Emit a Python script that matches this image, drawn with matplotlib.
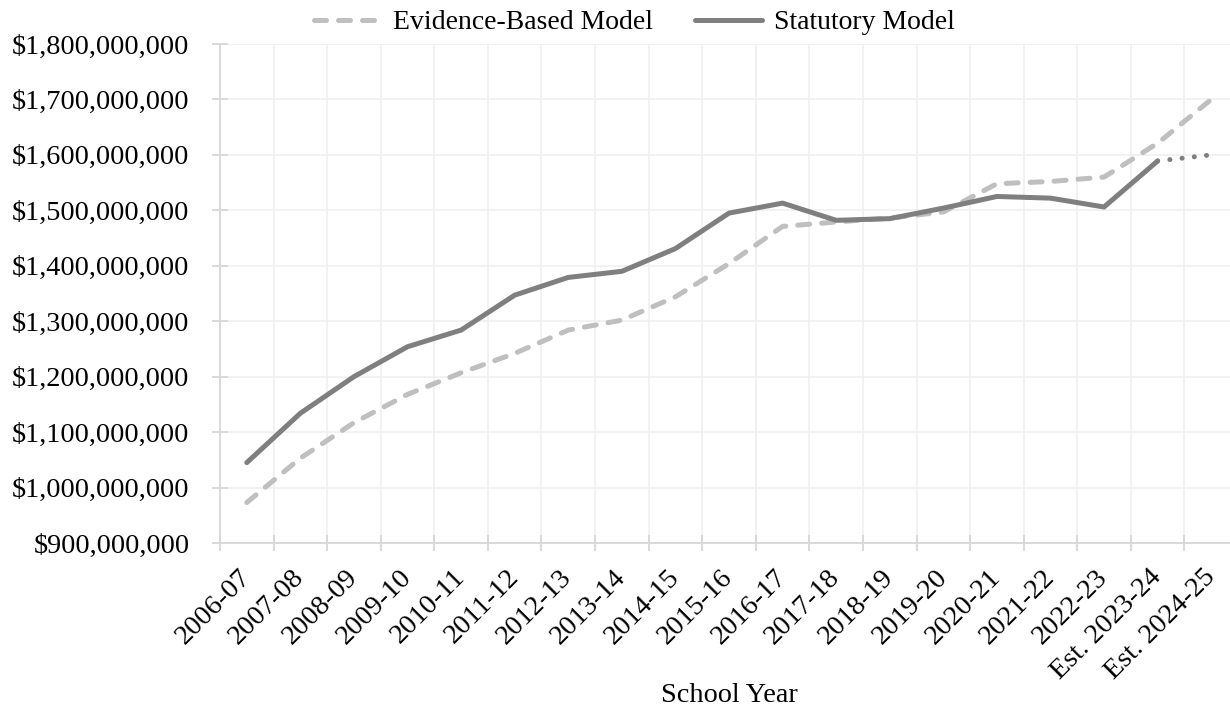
import matplotlib.pyplot as plt
import matplotlib.transforms as mtransforms
import numpy as np
from matplotlib.ticker import FuncFormatter

plt.rcParams['font.family'] = ['Liberation Serif', 'DejaVu Serif']

# school years on the x axis
years = ['2006-07', '2007-08', '2008-09', '2009-10', '2010-11', '2011-12',
         '2012-13', '2013-14', '2014-15', '2015-16', '2016-17', '2017-18',
         '2018-19', '2019-20', '2020-21', '2021-22', '2022-23',
         'Est. 2023-24', 'Est. 2024-25']

# values (dollars)
evidence = [973e6, 1053e6, 1117e6, 1168e6, 1207e6, 1242e6, 1284e6, 1302e6,
            1344e6, 1404e6, 1471e6, 1479e6, 1486e6, 1497e6, 1548e6, 1552e6,
            1560e6, 1621e6, 1700e6]
statutory = [1045e6, 1134e6, 1200e6, 1254e6, 1284e6, 1347e6, 1379e6, 1390e6,
             1431e6, 1495e6, 1513e6, 1482e6, 1485e6, 1504e6, 1525e6, 1522e6,
             1506e6, 1589e6, 1600e6]

x = np.arange(len(years))
fs = 20.3

fig = plt.figure(figsize=(12.3, 7.11), dpi=100)
ax = fig.add_axes([220 / 1230, 168 / 711, 1018 / 1230, 499 / 711])

ax.plot(x, evidence, color='#bfbfbf', lw=3.6, linestyle=(0, (2.4, 2.4)),
        dash_capstyle='round', label='Evidence-Based Model', zorder=3)
ax.plot(x[:18], statutory[:18], color='#7f7f7f', lw=3.6,
        solid_capstyle='round', solid_joinstyle='round',
        label='Statutory Model', zorder=4)
# estimate for the last year drawn dotted
ax.plot(x[17:], statutory[17:], color='#7f7f7f', lw=3.6,
        linestyle=(0, (0.01, 2.45)), dash_capstyle='round', zorder=4)

ax.set_xlim(-0.5, len(years) - 0.5)
ax.set_ylim(900e6, 1800e6)
ax.set_yticks(np.arange(900e6, 1800e6 + 1, 100e6))
ax.yaxis.set_major_formatter(FuncFormatter(lambda v, p: '${:,.0f}'.format(v)))

# labels in the middle of each category, tick marks/grid on the boundaries
ax.set_xticks(x)
ax.set_xticklabels(years, rotation=45, ha='right', va='center',
                   rotation_mode='anchor')
shift = mtransforms.ScaledTranslation(3 / 100, 0, fig.dpi_scale_trans)
for lab in ax.get_xticklabels():
    lab.set_transform(lab.get_transform() + shift)
ax.set_xticks(np.arange(-0.5, len(years)), minor=True)
ax.tick_params(axis='x', which='major', length=0, pad=22, labelsize=fs)
ax.tick_params(axis='x', which='minor', length=12, width=1.4,
               direction='inout', color='#d9d9d9')
ax.tick_params(axis='y', length=12, width=1.4, direction='inout',
               color='#d9d9d9', labelsize=fs, pad=16)

ax.grid(axis='x', which='minor', color='#f0f0f0', lw=1.2)
ax.grid(axis='y', which='major', color='#f0f0f0', lw=1.2)
ax.set_axisbelow(True)

for s in ['top', 'right']:
    ax.spines[s].set_visible(False)
for s in ['left', 'bottom']:
    ax.spines[s].set_color('#d9d9d9')
    ax.spines[s].set_linewidth(1.4)

ax.set_xlabel('School Year', fontsize=fs)
ax.xaxis.set_label_coords(0.5, -0.305)
ax.xaxis.label.set_va('center')

fig.legend(loc='center', bbox_to_anchor=(0.516, 0.968), ncol=2,
           frameon=False, fontsize=20, handlelength=2.4,
           handletextpad=0.45, columnspacing=1.5)

plt.savefig('out.png', dpi=100)
